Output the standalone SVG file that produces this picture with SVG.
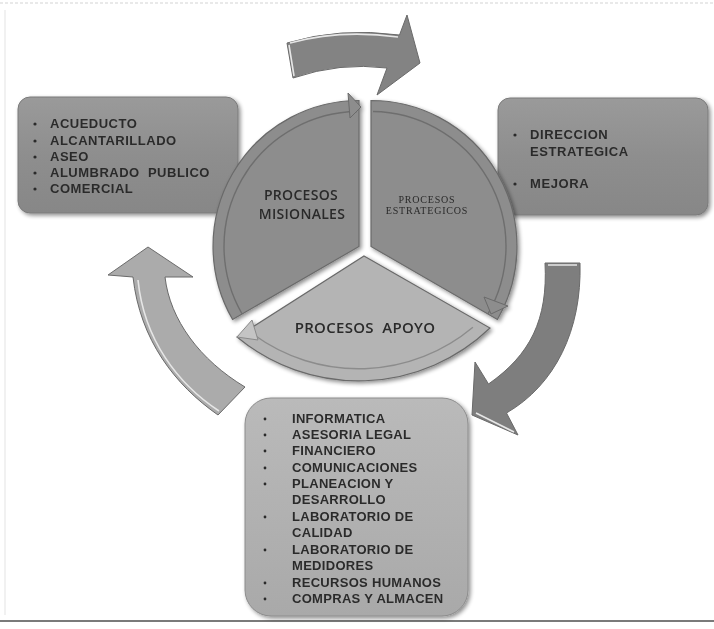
<svg xmlns="http://www.w3.org/2000/svg" width="714" height="629" viewBox="0 0 714 629">
  <defs>
    <filter id="shadow" x="-10%" y="-10%" width="125%" height="125%">
      <feGaussianBlur in="SourceAlpha" stdDeviation="2"/>
      <feOffset dx="2" dy="2" result="off"/>
      <feComponentTransfer><feFuncA type="linear" slope="0.45"/></feComponentTransfer>
      <feMerge><feMergeNode/><feMergeNode in="SourceGraphic"/></feMerge>
    </filter>
    <linearGradient id="boxDark" x1="0" y1="0" x2="0" y2="1">
      <stop offset="0" stop-color="#9a9a9a"/>
      <stop offset="0.5" stop-color="#8e8e8e"/>
      <stop offset="1" stop-color="#878787"/>
    </linearGradient>
    <linearGradient id="boxLight" x1="0" y1="0" x2="0" y2="1">
      <stop offset="0" stop-color="#bababa"/>
      <stop offset="1" stop-color="#a9a9a9"/>
    </linearGradient>
    <style>
      .item { font-family: "Liberation Sans", Arial, sans-serif; font-weight: bold; font-size: 13px; fill: #2c2c2c; }
      .bul { fill: #2c2c2c; }
      .title { font-family: "Open Sans", "Liberation Sans", sans-serif; font-weight: 600; font-size: 14px; fill: #2a2a2a; text-anchor: middle; letter-spacing: 0.3px; }
      .small { font-family: "Liberation Serif", "Times New Roman", serif; font-size: 10px; fill: #2a2a2a; text-anchor: middle; letter-spacing: 0.8px; }
      .sector { fill: #8d8d8d; stroke: #6a6a6a; stroke-width: 1.2; }
      .band { fill: none; stroke: #6e6e6e; stroke-width: 1.4; }
      .arrow { stroke: #6a6a6a; stroke-width: 1; }
      .hl { fill: none; stroke: #e6e6e6; stroke-width: 1.6; }
    </style>
  </defs>

  <rect width="714" height="629" fill="#ffffff"/>
  <!-- page edges -->
  <line x1="0" y1="3" x2="714" y2="3" stroke="#e2e2e2" stroke-width="1.5" stroke-dasharray="3 2"/>
  <line x1="5" y1="10" x2="5" y2="615" stroke="#ececec" stroke-width="1.5"/>
  <line x1="0" y1="621" x2="714" y2="621" stroke="#7a7a7a" stroke-width="2"/>

  <!-- cycle arrows -->
  <g id="connectors">
    <g id="arrow-top">
      <path class="arrow" fill="#838383" d="M 287 43 Q 340 27 399.5 35 L 407 15 L 420 63 L 377 95 L 387 68 Q 340 62 293 78 Z"/>
      <path class="hl" d="M 289 45 L 294 76 M 290 43 Q 340 29 398 37"/>
    </g>
    <g id="arrow-right">
      <path class="arrow" fill="#7e7e7e" d="M 545 263 L 580 263 C 582 330 555 385 506.5 413 L 518 435 L 472 415 L 475 362 L 488.5 384 C 530 355 548 320 545 263 Z"/>
      <path class="hl" d="M 548 265 L 577 265 M 476 413 L 514 432"/>
    </g>
    <g id="arrow-left">
      <path class="arrow" fill="#ababab" d="M 148 247 L 193 277 L 165 277 C 170 320 200 360 245 387 L 218 415 C 175 385 140 340 133 277 L 108 275 Z"/>
      <path class="hl" d="M 138 280 C 144 340 178 384 219 411"/>
    </g>
  </g>

  <!-- left box -->
  <g id="misionales-list" filter="url(#shadow)">
    <rect x="18" y="97" width="220" height="116" rx="12" fill="url(#boxDark)" stroke="#7a7a7a" stroke-width="1"/>
    <g class="item" letter-spacing="0.5">
      <text x="50" y="128">ACUEDUCTO</text>
      <text x="50" y="145">ALCANTARILLADO</text>
      <text x="50" y="161">ASEO</text>
      <text x="50" y="177" xml:space="preserve">ALUMBRADO  PUBLICO</text>
      <text x="50" y="193">COMERCIAL</text>
    </g>
    <g class="bul">
      <circle cx="35" cy="124" r="1.6"/>
      <circle cx="35" cy="141" r="1.6"/>
      <circle cx="35" cy="157" r="1.6"/>
      <circle cx="35" cy="173" r="1.6"/>
      <circle cx="35" cy="189" r="1.6"/>
    </g>
  </g>

  <!-- right box -->
  <g id="estrategicos-list" filter="url(#shadow)">
    <rect x="498" y="98" width="210" height="117" rx="12" fill="url(#boxDark)" stroke="#7a7a7a" stroke-width="1"/>
    <g class="item" letter-spacing="0.6">
      <text x="530" y="139">DIRECCION</text>
      <text x="530" y="156">ESTRATEGICA</text>
      <text x="530" y="188">MEJORA</text>
    </g>
    <g class="bul">
      <circle cx="515" cy="135" r="1.6"/>
      <circle cx="515" cy="184" r="1.6"/>
    </g>
  </g>

  <!-- misionales sector -->
  <g id="procesos-misionales" filter="url(#shadow)">
    <path class="sector" d="M 359 246.5 L 359 100.5 A 146 146 0 0 0 232.6 319.5 Z"/>
    <path class="band" d="M 357 111.5 A 135 135 0 0 0 242.1 314"/>
    <path fill="#8d8d8d" stroke="#6a6a6a" stroke-width="1" d="M 348 93 L 361 107 L 350 118 Z"/>
    <text class="title" x="301" y="200">PROCESOS</text>
    <text class="title" x="302" y="219">MISIONALES</text>
  </g>

  <!-- estrategicos sector -->
  <g id="procesos-estrategicos" filter="url(#shadow)">
    <path class="sector" d="M 371 246.5 L 371 100.5 A 146 146 0 0 1 497.4 319.5 Z"/>
    <path class="band" d="M 373 111.5 A 135 135 0 0 1 487.9 314"/>
    <path fill="#8d8d8d" stroke="#6a6a6a" stroke-width="1" d="M 484 297 L 508 306 L 491 314 Z"/>
    <text class="small" x="427" y="203">PROCESOS</text>
    <text class="small" x="427" y="214">ESTRATEGICOS</text>
  </g>

  <!-- apoyo sector -->
  <g id="procesos-apoyo" filter="url(#shadow)">
    <path class="sector" style="fill:#b4b4b4" d="M 364 256 L 490 328 A 190 190 0 0 1 237 337 Z"/>
    <path class="band" style="stroke:#8c8c8c" d="M 472.9 327.2 A 178 178 0 0 1 253.9 334.8"/>
    <path fill="#c4c4c4" stroke="#8a8a8a" stroke-width="1" d="M 252 320 L 237 337 L 258 340 Z"/>
    <text class="title" style="font-size:15px" x="365" y="333" xml:space="preserve">PROCESOS  APOYO</text>
  </g>

  <!-- bottom box -->
  <g id="apoyo-list" filter="url(#shadow)">
    <rect x="245" y="398" width="223" height="218" rx="26" fill="url(#boxLight)" stroke="#8c8c8c" stroke-width="1"/>
    <g class="item" letter-spacing="0.3">
      <text x="292" y="423">INFORMATICA</text>
      <text x="292" y="439">ASESORIA LEGAL</text>
      <text x="292" y="455">FINANCIERO</text>
      <text x="292" y="472">COMUNICACIONES</text>
      <text x="292" y="488">PLANEACION Y</text>
      <text x="292" y="504">DESARROLLO</text>
      <text x="292" y="521">LABORATORIO DE</text>
      <text x="292" y="537">CALIDAD</text>
      <text x="292" y="554">LABORATORIO DE</text>
      <text x="292" y="570">MEDIDORES</text>
      <text x="292" y="587">RECURSOS HUMANOS</text>
      <text x="292" y="603">COMPRAS Y ALMACEN</text>
    </g>
    <g class="bul">
      <circle cx="265" cy="419" r="1.4"/>
      <circle cx="265" cy="435" r="1.4"/>
      <circle cx="265" cy="451" r="1.4"/>
      <circle cx="265" cy="468" r="1.4"/>
      <circle cx="265" cy="484" r="1.4"/>
      <circle cx="265" cy="517" r="1.4"/>
      <circle cx="265" cy="550" r="1.4"/>
      <circle cx="265" cy="583" r="1.4"/>
      <circle cx="265" cy="599" r="1.4"/>
    </g>
  </g>
</svg>
